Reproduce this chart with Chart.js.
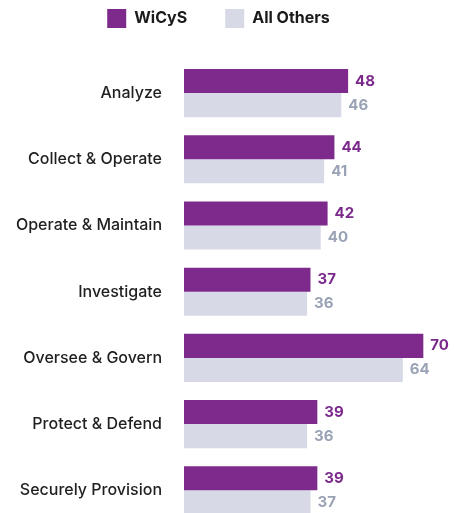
<!DOCTYPE html>
<html>
<head>
<meta charset="utf-8">
<script src="https://cdn.jsdelivr.net/npm/chart.js@4/dist/chart.umd.min.js"></script>
<style>
  html, body { margin: 0; padding: 0; background: #ffffff; overflow: hidden; }
  #wrap { position: relative; width: 454px; height: 555px; }
</style>
</head>
<body>
<div id="wrap"><canvas id="c"></canvas></div>
<script>
const categories = ["Analyze", "Collect & Operate", "Operate & Maintain", "Investigate", "Oversee & Govern", "Protect & Defend", "Securely Provision"];
const seriesNames = ["WiCyS", "All Others"];
const wicysValues = [48, 44, 42, 37, 70, 39, 39];
const othersValues = [46, 41, 40, 36, 64, 36, 37];

const PURPLE = "#7E2A8C";
const GREY = "#D7D9E6";
const PURPLE_TXT = "#7B2A8C";
const GREY_TXT = "#9AA3B6";
const FONT = "Inter, 'Open Sans', sans-serif";

const valueLabels = {
  id: "valueLabels",
  afterDatasetsDraw(chart) {
    const ctx = chart.ctx;
    ctx.save();
    ctx.font = "bold 15px " + FONT;
    ctx.textAlign = "left";
    ctx.textBaseline = "middle";
    chart.data.datasets.forEach((ds, di) => {
      const meta = chart.getDatasetMeta(di);
      ctx.fillStyle = di === 0 ? PURPLE_TXT : GREY_TXT;
      meta.data.forEach((el, i) => {
        ctx.fillText(String(ds.data[i]), el.x + 7, el.y);
      });
    });
    ctx.restore();
  }
};

const legendHeight = {
  id: "legendHeight",
  beforeLayout(chart) {
    const lg = chart.legend;
    if (lg && !lg._patched) {
      lg._patched = true;
      const origFit = lg.fit;
      lg.fit = function () { origFit.call(this); this.height = 89; };
    }
  }
};

new Chart(document.getElementById("c"), {
  type: "bar",
  data: {
    labels: categories,
    datasets: [
      { label: seriesNames[0], data: wicysValues, backgroundColor: PURPLE, borderWidth: 0 },
      { label: seriesNames[1], data: othersValues, backgroundColor: GREY, borderWidth: 0 }
    ]
  },
  options: {
    indexAxis: "y",
    responsive: true,
    maintainAspectRatio: false,
    animation: false,
    datasets: { bar: { barPercentage: 1, categoryPercentage: 0.727 } },
    layout: { padding: { top: -29, left: 0, right: 17, bottom: 8 } },
    scales: {
      x: { display: false, min: 0, max: 74 },
      y: {
        grid: { display: false, drawTicks: false },
        border: { display: false },
        ticks: { color: "#1f1f1f", font: { family: FONT, size: 16, weight: 500 }, padding: 22 },
        afterFit(scale) { scale.width = 184; }
      }
    },
    plugins: {
      legend: {
        position: "top",
        labels: {
          boxWidth: 19,
          boxHeight: 19,
          padding: 38,
          color: "#1a1a1a",
          font: { family: FONT, size: 16, weight: "bold" }
        }
      },
      tooltip: { enabled: false }
    }
  },
  plugins: [valueLabels, legendHeight]
});
</script>
</body>
</html>
